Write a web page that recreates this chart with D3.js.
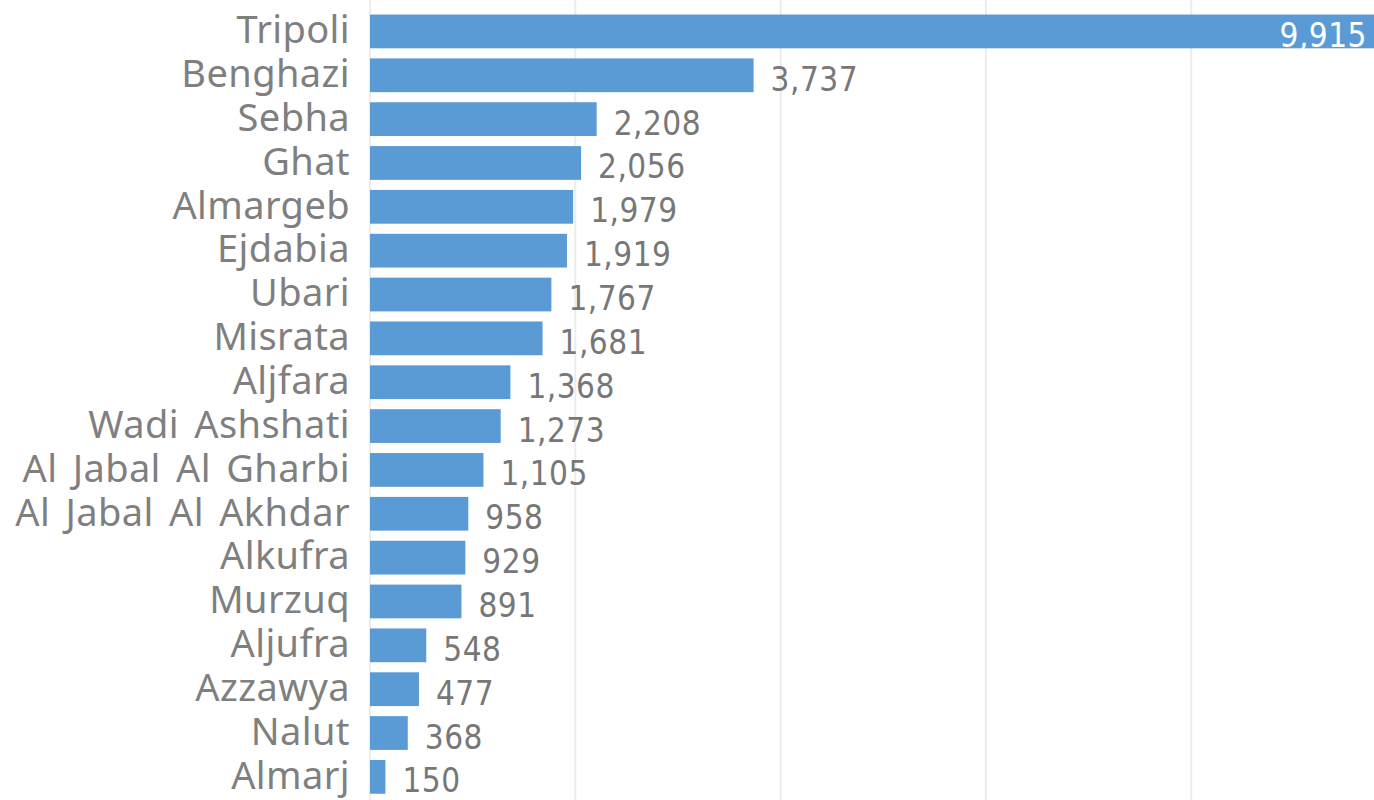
<!DOCTYPE html>
<html>
<head>
<meta charset="utf-8">
<script src="https://cdn.jsdelivr.net/npm/d3@7"></script>
<style>
  body { margin: 0; background: #fff; overflow: hidden; }
</style>
</head>
<body>
<div id="chart"></div>
<script>
const regions = ["Tripoli","Benghazi","Sebha","Ghat","Almargeb","Ejdabia","Ubari","Misrata","Aljfara","Wadi Ashshati","Al Jabal Al Gharbi","Al Jabal Al Akhdar","Alkufra","Murzuq","Aljufra","Azzawya","Nalut","Almarj"]
const counts = [9915,3737,2208,2056,1979,1919,1767,1681,1368,1273,1105,958,929,891,548,477,368,150]
const gridTicks = [0,2000,4000,6000,8000]

const svgWidth = 1374
const svgHeight = 800
const marginLeft = 370
const marginTop = 9.5
const bandStep = 43.85

function translate(x,y){return `translate(${x}, ${y})`}

const svg = d3.select("#chart").append("svg")
    .attr("width", svgWidth).attr("height", svgHeight)

const xScale = d3.scaleLinear().domain([0,2000]).range([0,205.3])
const yScale = d3.scaleBand().domain(regions)
    .range([0, bandStep*regions.length])
    .paddingInner(0.23).paddingOuter(0.115)

const g = svg.append("g").attr("transform", translate(marginLeft, marginTop))

// vertical gridlines
g.append("g").selectAll("line").data(gridTicks).enter().append("line")
    .attr("x1", d=>xScale(d)).attr("x2", d=>xScale(d))
    .attr("y1", -marginTop).attr("y2", svgHeight)
    .attr("stroke", "#ececec").attr("stroke-width", 2)

// bars
g.append("g").selectAll("rect").data(regions).enter().append("rect")
    .attr("x", 0)
    .attr("y", d=>yScale(d))
    .attr("width", (d,i)=>xScale(counts[i]))
    .attr("height", yScale.bandwidth())
    .attr("fill", "#5b9bd5")

// category labels
const yAxis = d3.axisLeft(yScale).tickSize(0).tickPadding(20)
const ya = g.append("g").call(yAxis)
ya.select(".domain").remove()
ya.selectAll("text")
    .attr("font-family", "'Segoe UI','Noto Sans',sans-serif")
    .attr("font-size", 38)
    .attr("letter-spacing", 0.4)
    .attr("word-spacing", 5)
    .attr("fill", "#7f7f7f")
    .attr("dy", "0.31em")

// value labels
const fmt = d3.format(",")
g.append("g").selectAll("text").data(regions).enter().append("text")
    .attr("y", d=>yScale(d)+yScale.bandwidth()/2)
    .attr("dy", "0.47em")
    .attr("font-family", "'DejaVu Sans Condensed','DejaVu Sans',sans-serif")
    .attr("font-size", 33)
    .attr("letter-spacing", 0.5)
    .each(function(d,i){
        const t = d3.select(this)
        const w = xScale(counts[i])
        if (marginLeft + w + 17 + 90 > svgWidth) {
            t.attr("x", svgWidth - marginLeft - 7).attr("text-anchor","end").attr("fill","#fff")
        } else {
            t.attr("x", w + 17).attr("fill","#777")
        }
    })
    .text((d,i)=>fmt(counts[i]))
</script>
</body>
</html>
